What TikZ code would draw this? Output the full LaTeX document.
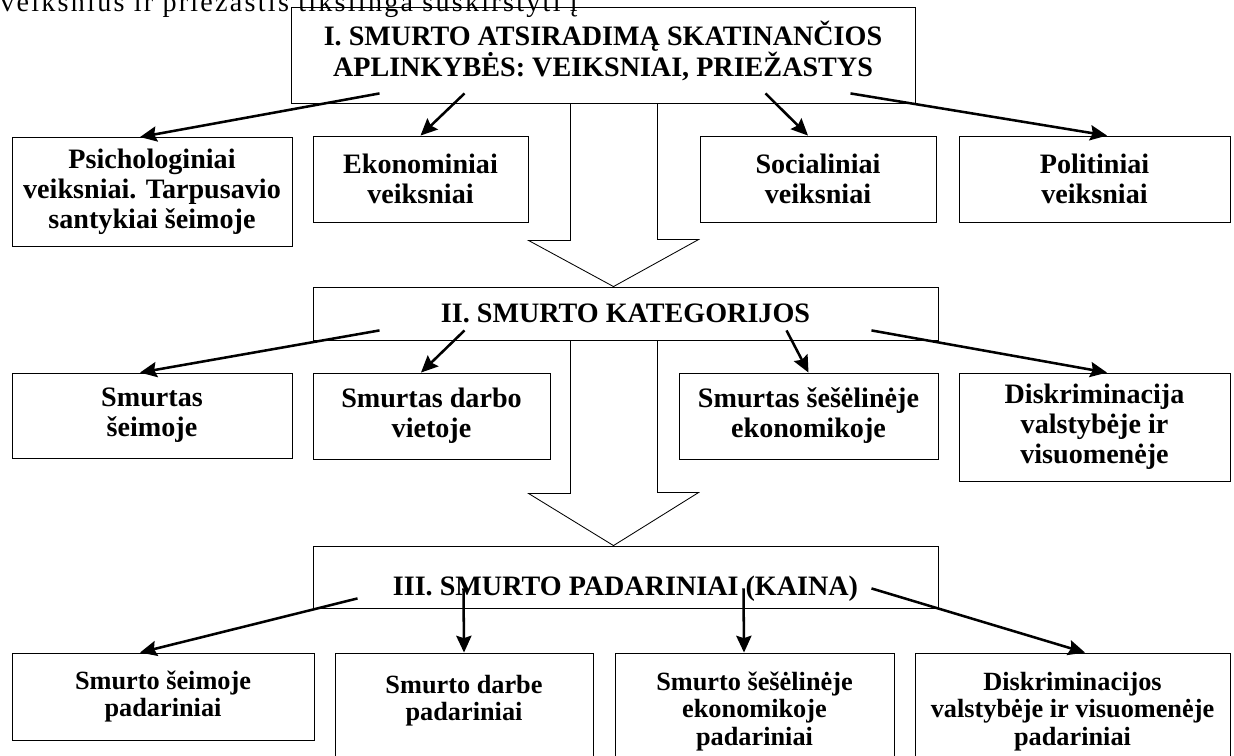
\documentclass[tikz,border=0pt]{standalone}
\usepackage{fontspec}
\setmainfont{Liberation Serif}
\usetikzlibrary{arrows.meta, calc}

\begin{document}
\begin{tikzpicture}[
    x=0.025cm, y=-0.025cm,
    box/.style={draw, line width=0.6pt, align=center, inner sep=2pt, font=\fontsize{20}{21.3}\selectfont\bfseries},
    title/.style={box},
    result/.style={box, font=\fontsize{18.7}{19.5}\selectfont\bfseries},
    arrow/.style={-{Stealth[length=0.42cm, width=0.38cm, inset=0.06cm]}, line width=1.8pt},
    hollow/.style={line width=0.6pt, line join=miter}
]
    \useasboundingbox (0,0) rectangle (1234,755);
    \clip (0,0) rectangle (1234,755);

    % Text line cut by the page edge
    \node[anchor=base west, inner sep=0pt, font=\fontsize{20}{22}\selectfont\addfontfeature{LetterSpace=8}] (intro) at (0,12) {veiksnius ir priežastis tikslinga suskirstyti į};

    % I. Causes
    \node[title, minimum width=15.6cm, minimum height=2.4cm, text depth=9pt] (causes) at (603,55) {I. SMURTO ATSIRADIMĄ SKATINANČIOS\\APLINKYBĖS: VEIKSNIAI, PRIEŽASTYS};
    \node[box, minimum width=7cm, minimum height=2.725cm] (psych) at (152,192) {Psichologiniai\\veiksniai. Tarpusavio\\santykiai šeimoje};
    \node[box, minimum width=5.375cm, minimum height=2.15cm] (econ) at (420.5,179) {Ekonominiai\\veiksniai};
    \node[box, minimum width=5.9cm, minimum height=2.15cm] (social) at (818,179) {Socialiniai\\veiksniai};
    \node[box, minimum width=6.775cm, minimum height=2.15cm] (polit) at (1094.5,179) {Politiniai\\veiksniai};

    % II. Categories
    \node[title, minimum width=15.625cm, minimum height=1.325cm] (categ) at (625.5,313.5) {II. SMURTO KATEGORIJOS};
    \node[box, minimum width=7cm, minimum height=2.125cm] (family) at (152,415.5) {Smurtas\\šeimoje};
    \node[box, minimum width=5.925cm, minimum height=2.15cm] (work) at (431.5,416) {Smurtas darbo\\vietoje};
    \node[box, minimum width=6.475cm, minimum height=2.15cm] (shadow) at (808.5,416) {Smurtas šešėlinėje\\ekonomikoje};
    \node[box, minimum width=6.775cm, minimum height=2.7cm] (discr) at (1094.5,427) {Diskriminacija\\valstybėje ir\\visuomenėje};

    % III. Consequences
    \node[title, minimum width=15.625cm, minimum height=1.55cm, text height=31pt, text depth=4pt] (conseq) at (625.5,577) {III. SMURTO PADARINIAI (KAINA)};
    \node[result, minimum width=7.55cm, minimum height=2.175cm] (famc) at (163,696.5) {Smurto šeimoje\\padariniai};
    \node[result, minimum width=6.45cm, minimum height=2.925cm] (workc) at (464,711.5) {Smurto darbe\\padariniai\\\mbox{}};
    \node[result, minimum width=6.975cm, minimum height=2.925cm] (shadowc) at (754.5,711.5) {Smurto šešėlinėje\\ekonomikoje\\padariniai};
    \node[result, minimum width=7.875cm, minimum height=2.925cm] (discrc) at (1072.5,711.5) {Diskriminacijos\\valstybėje ir visuomenėje\\padariniai};

    % Block arrows between levels
    \draw[hollow] ($(causes.south west)+(280,0)$) -- ++(0,137) -- ++(-42,0) -- ($(categ.north west)+(301,0)$) -- ++(85,-47) -- ++(-41,0) -- ($(causes.south west)+(367,0)$);
    \draw[hollow] ($(categ.south west)+(258,0)$) -- ++(0,153) -- ++(-42,0) -- ($(conseq.north west)+(301,0)$) -- ++(85,-53) -- ++(-41,0) -- ($(categ.south west)+(345,0)$);

    % Arrows
    \draw[arrow] ($(causes.south west)+(89,-10)$) -- ([xshift=-0.3cm]psych.north);
    \draw[arrow] ($(causes.south west)+(174,-10)$) -- (econ.north);
    \draw[arrow] ($(causes.south west)+(475,-10)$) -- ([xshift=-0.25cm]social.north);
    \draw[arrow] ($(causes.south west)+(560,-10)$) -- ([xshift=0.3125cm]polit.north);

    \draw[arrow] ($(categ.south west)+(67,-10)$) -- ([xshift=-0.3cm]family.north);
    \draw[arrow] ($(categ.south west)+(152,-10)$) -- ([xshift=-0.2625cm]work.north);
    \draw[arrow] ($(categ.south west)+(474,-10)$) -- (shadow.north);
    \draw[arrow] ($(categ.south west)+(559,-10)$) -- ([xshift=0.3125cm]discr.north);

    \draw[arrow] ($(conseq.south west)+(45,-10)$) -- ([xshift=-0.575cm]famc.north);
    \draw[arrow] ($(conseq.south west)+(151,-20)$) -- (workc.north);
    \draw[arrow] ($(conseq.south west)+(431,-20)$) -- ([xshift=-0.2625cm]shadowc.north);
    \draw[arrow] ($(conseq.south west)+(559,-20)$) -- ([xshift=0.3125cm]discrc.north);
\end{tikzpicture}
\end{document}
